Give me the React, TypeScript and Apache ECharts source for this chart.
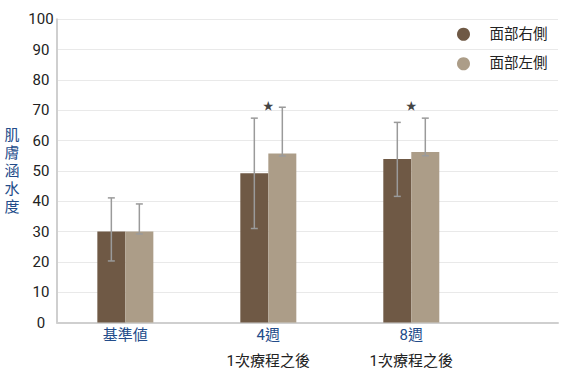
import React, { useEffect, useRef } from "react";
import * as echarts from "echarts";

const categories = ["基準値", "4週", "8週"];
const subLabels = ["", "1次療程之後", "1次療程之後"];
const seriesNames = ["面部右側", "面部左側"];
const rightValues = [30, 49.2, 53.9];
const rightUpper = [41.1, 67.4, 66.0];
const rightLower = [20.3, 31.0, 41.6];
const leftValues = [30, 55.7, 56.2];
const leftUpper = [39.1, 71.0, 67.4];
const leftLower = [29.2, 54.9, 55.0];
const sigMarks = [
  { cat: 1, value: 71.3 },
  { cat: 2, value: 71.3 },
];
const yTicks = { min: 0, max: 100, interval: 10 };

const DARK = "#6F5945";
const LIGHT = "#AC9D88";
const BLUE = "#234C8A";
const ERR = "#9a9a9a";

function errSeries(lower: number[], upper: number[], offset: number) {
  return {
    type: "custom",
    z: 5,
    silent: true,
    data: lower.map((lo, i) => [i, lo, upper[i]]),
    encode: { x: 0, y: [1, 2] },
    renderItem: (_p: any, api: any) => {
      const x = api.value(0);
      const pLo = api.coord([x, api.value(1)]);
      const pHi = api.coord([x, api.value(2)]);
      const cx = pLo[0] + offset;
      const style = { stroke: ERR, lineWidth: 1.5 };
      return {
        type: "group",
        children: [
          { type: "line", shape: { x1: cx, y1: pHi[1], x2: cx, y2: pLo[1] }, style },
          { type: "line", shape: { x1: cx - 3.5, y1: pHi[1], x2: cx + 3.5, y2: pHi[1] }, style },
          { type: "line", shape: { x1: cx - 3.5, y1: pLo[1], x2: cx + 3.5, y2: pLo[1] }, style },
        ],
      };
    },
  };
}

export default function App() {
  const ref = useRef<HTMLDivElement>(null);
  useEffect(() => {
    document.body.style.margin = "0";
    if (!ref.current) return;
    const chart = echarts.init(ref.current, undefined, { renderer: "svg" });
    const font = 'Roboto, "Noto Sans CJK TC", sans-serif';
    chart.setOption({
      animation: false,
      textStyle: { fontFamily: font },
      grid: { left: 57, right: 12, top: 19.3, bottom: 52.5, containLabel: false },
      legend: {
        orient: "vertical",
        left: 452,
        top: 22,
        itemWidth: 42,
        itemHeight: 13,
        itemGap: 15,
        icon: "circle",
        data: seriesNames,
        textStyle: { fontSize: 14.5, color: "#222", fontFamily: font },
      },
      xAxis: {
        type: "value",
        min: -0.478,
        max: 3.026,
        axisLine: { show: true, onZero: false, lineStyle: { color: "#cfcfcf", width: 2 } },
        axisTick: { show: false },
        splitLine: { show: false },
        axisLabel: {
          customValues: [0, 1, 2],
          margin: 0,
          formatter: (v: number) => {
            const i = Math.round(v);
            return subLabels[i] ? `{a|${categories[i]}}\n{b|${subLabels[i]}}` : `{a|${categories[i]}}`;
          },
          rich: {
            a: { fontSize: 15, color: BLUE, lineHeight: 24, fontFamily: font },
            b: { fontSize: 15, color: "#222", lineHeight: 28, fontFamily: font },
          },
        },
      },
      yAxis: {
        type: "value",
        min: yTicks.min,
        max: yTicks.max,
        interval: yTicks.interval,
        name: "肌膚涵水度".split("").join("\n"),
        nameLocation: "middle",
        nameRotate: 0,
        nameGap: 45,
        nameTextStyle: {
          fontSize: 15,
          lineHeight: 18,
          color: BLUE,
          align: "center",
          verticalAlign: "middle",
          fontFamily: font,
        },
        axisLine: { show: true, onZero: false, lineStyle: { color: "#cfcfcf", width: 2 } },
        axisTick: { show: false },
        splitLine: { show: true, lineStyle: { color: "#e9e9e9", width: 1 } },
        axisLabel: { fontSize: 15, color: "#222", margin: 16, align: "center", fontFamily: "Roboto" },
      },
      series: [
        {
          name: seriesNames[0],
          type: "bar",
          barWidth: 28,
          barGap: "0%",
          itemStyle: { color: DARK },
          data: rightValues.map((v, i) => [i, v]),
        },
        {
          name: seriesNames[1],
          type: "bar",
          barWidth: 28,
          barGap: "0%",
          itemStyle: { color: LIGHT },
          data: leftValues.map((v, i) => [i, v]),
        },
        errSeries(rightLower, rightUpper, -14),
        errSeries(leftLower, leftUpper, 14),
        {
          type: "scatter",
          symbolSize: 0,
          silent: true,
          z: 6,
          data: sigMarks.map((m) => [m.cat, m.value]),
          label: {
            show: true,
            position: "inside",
            formatter: "★",
            fontSize: 11,
            color: "#111",
          },
        },
      ],
    });
    return () => chart.dispose();
  }, []);
  return <div ref={ref} style={{ width: 570, height: 375 }} />;
}
